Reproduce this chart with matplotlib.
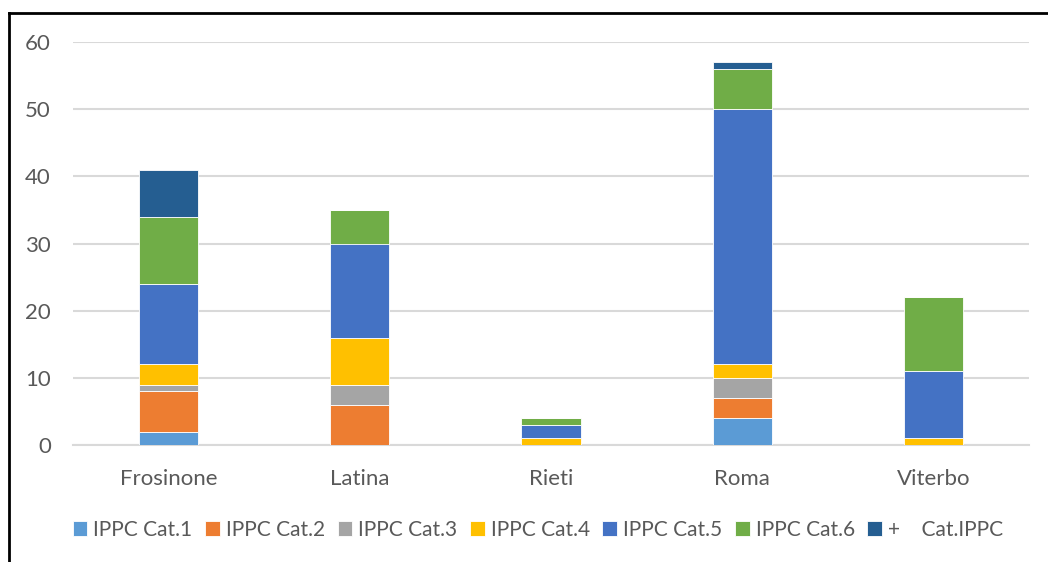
import matplotlib
matplotlib.use("Agg")
import matplotlib.pyplot as plt
from matplotlib.lines import Line2D
import numpy as np

categories = ["Frosinone", "Latina", "Rieti", "Roma", "Viterbo"]
series_names = ["IPPC Cat.1", "IPPC Cat.2", "IPPC Cat.3", "IPPC Cat.4",
                "IPPC Cat.5", "IPPC Cat.6", "+    Cat.IPPC"]
cat1 = [2, 0, 0, 4, 0]
cat2 = [6, 6, 0, 3, 0]
cat3 = [1, 3, 0, 3, 0]
cat4 = [3, 7, 1, 2, 1]
cat5 = [12, 14, 2, 38, 10]
cat6 = [10, 5, 1, 6, 11]
multi = [7, 0, 0, 1, 0]
series = [cat1, cat2, cat3, cat4, cat5, cat6, multi]
colors = ["#5B9BD5", "#ED7D31", "#A5A5A5", "#FFC000", "#4472C4", "#70AD47", "#255E91"]
yticks = [0, 10, 20, 30, 40, 50, 60]

plt.rcParams['font.family'] = ['Lato', 'DejaVu Sans']
W, H = 1048, 562
fig = plt.figure(figsize=(W/100, H/100), dpi=100)
ax = fig.add_axes([73/W, 1-445/H, (1029-73)/W, (445-42)/H])

x = np.arange(len(categories))
bottom = np.zeros(len(categories))
for name, vals, c in zip(series_names, series, colors):
    v = np.array(vals, dtype=float)
    ax.bar(x, v, 0.31, bottom=bottom, color=c, label=name,
           edgecolor="white", linewidth=0.6, zorder=3)
    bottom += v

ax.set_xlim(-0.5, len(categories) - 0.5)
ax.set_ylim(0, 60)
ax.set_yticks(yticks)
ax.set_yticklabels([str(t) for t in yticks])
ax.set_xticks(x)
ax.set_xticklabels(categories)
ax.yaxis.grid(True, color="#D9D9D9", linewidth=1.5, zorder=0)
ax.set_axisbelow(True)
for s in ["top", "right", "left"]:
    ax.spines[s].set_visible(False)
ax.spines["bottom"].set_color("#D9D9D9")
ax.spines["bottom"].set_linewidth(1.5)
ax.tick_params(axis="both", length=0, colors="#595959", labelsize=16)
ax.tick_params(axis="y", pad=16)
ax.tick_params(axis="x", pad=17)

handles, labels = ax.get_legend_handles_labels()
leg = fig.legend(handles, labels, loc="center", bbox_to_anchor=(538/W, 1-530/H),
                 ncol=7, frameon=False, fontsize=15, handlelength=0.7, handleheight=0.7,
                 handletextpad=0.3, columnspacing=0.6, labelcolor="#595959")

fig.add_artist(Line2D([9/W, 9/W], [0, 1-12.5/H], color="black", linewidth=2, transform=fig.transFigure))
fig.add_artist(Line2D([9/W, 1], [1-12.5/H, 1-12.5/H], color="black", linewidth=2, transform=fig.transFigure))

fig.savefig("out.png", dpi=100)
